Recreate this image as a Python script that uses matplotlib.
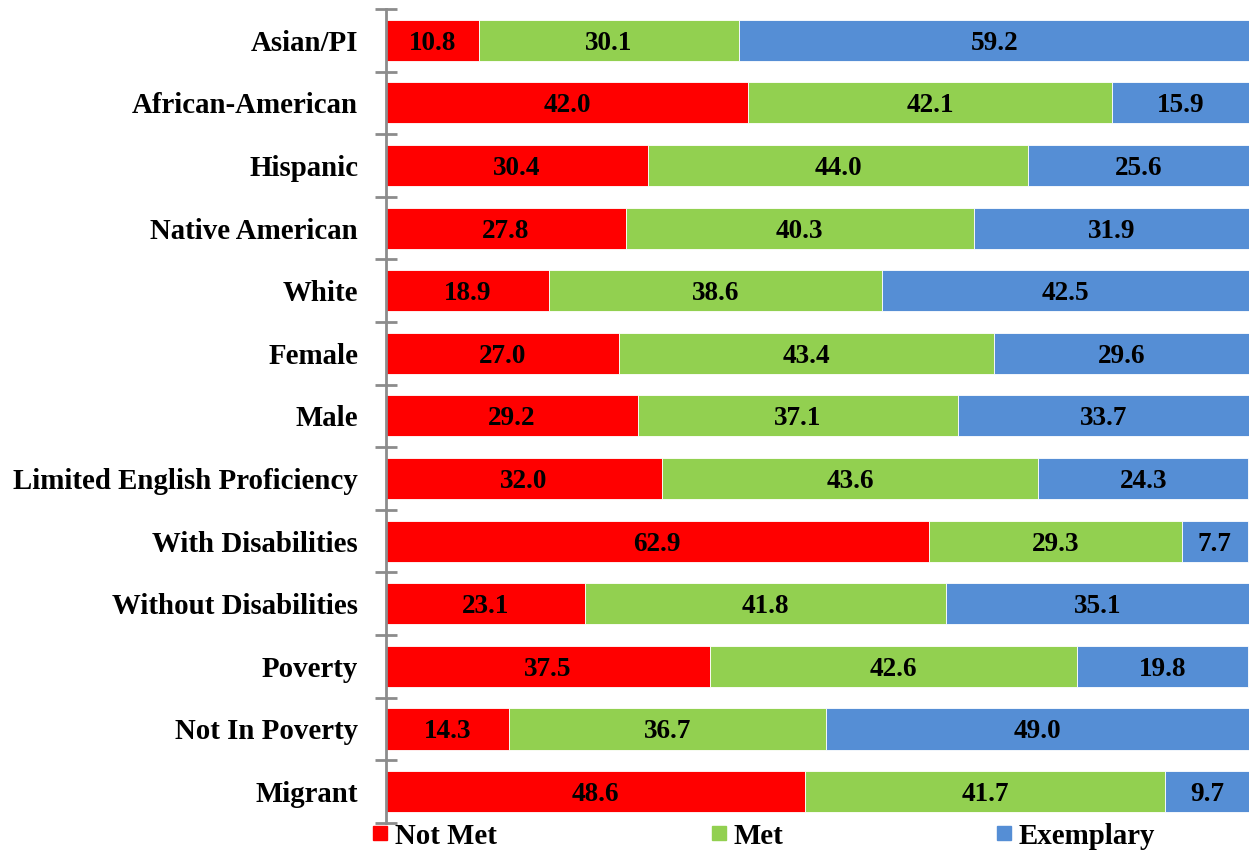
import matplotlib
matplotlib.use("Agg")
import matplotlib.pyplot as plt
from matplotlib.patches import Rectangle
import numpy as np

categories = ["Asian/PI", "African-American", "Hispanic", "Native American", "White",
              "Female", "Male", "Limited English Proficiency", "With Disabilities",
              "Without Disabilities", "Poverty", "Not In Poverty", "Migrant"]
not_met = [10.8, 42.0, 30.4, 27.8, 18.9, 27.0, 29.2, 32.0, 62.9, 23.1, 37.5, 14.3, 48.6]
met = [30.1, 42.1, 44.0, 40.3, 38.6, 43.4, 37.1, 43.6, 29.3, 41.8, 42.6, 36.7, 41.7]
exemplary = [59.2, 15.9, 25.6, 31.9, 42.5, 29.6, 33.7, 24.3, 7.7, 35.1, 19.8, 49.0, 9.7]
series_names = ["Not Met", "Met", "Exemplary"]
colors = ["#FF0000", "#92D050", "#558ED5"]

plt.rcParams['font.family'] = ['Liberation Serif', 'DejaVu Serif']
plt.rcParams['font.weight'] = 'bold'

fig = plt.figure(figsize=(12.49, 8.51), dpi=100)
ax = fig.add_axes([0.309, 0.033, 0.691, 0.9565])

n = len(categories)
y = np.arange(n)
left = np.zeros(n)
for vals, c in zip([not_met, met, exemplary], colors):
    vals = np.array(vals)
    ax.barh(y, vals, left=left, height=0.655, color=c, edgecolor='white', linewidth=0.6)
    for yi, l, v in zip(y, left, vals):
        ax.text(l + v / 2, yi, f"{v:.1f}", ha='center', va='center_baseline', fontsize=19.5,
                fontweight='bold', color='black')
    left = left + vals

ax.set_xlim(0, 100)
ax.set_ylim(n - 0.5, -0.5)
ax.set_xticks([])
ax.set_yticks(np.arange(-0.5, n, 1.0))
ax.set_yticklabels([])
ax.set_yticks(y, minor=True)
ax.set_yticklabels(categories, minor=True, fontsize=20.8, fontweight='bold')
ax.tick_params(axis='y', which='major', direction='inout', length=16, width=2, color='#8C8C8C')
ax.tick_params(axis='y', which='minor', length=0, pad=20)
for s in ['top', 'right', 'bottom']:
    ax.spines[s].set_visible(False)
ax.spines['left'].set_color('#8C8C8C')
ax.spines['left'].set_linewidth(2)

# legend entries
W, H = 1249, 851
leg_pos = [373, 712, 997]
ly = 833
for name, c, x0 in zip(series_names, colors, leg_pos):
    fig.add_artist(Rectangle((x0 / W, 1 - (ly + 7) / H), 14 / W, 14 / H,
                             transform=fig.transFigure, color=c))
    fig.text((x0 + 22) / W, 1 - ly / H, name, ha='left', va='center_baseline',
             fontsize=20.8, fontweight='bold')

fig.savefig("out.png", dpi=100)
